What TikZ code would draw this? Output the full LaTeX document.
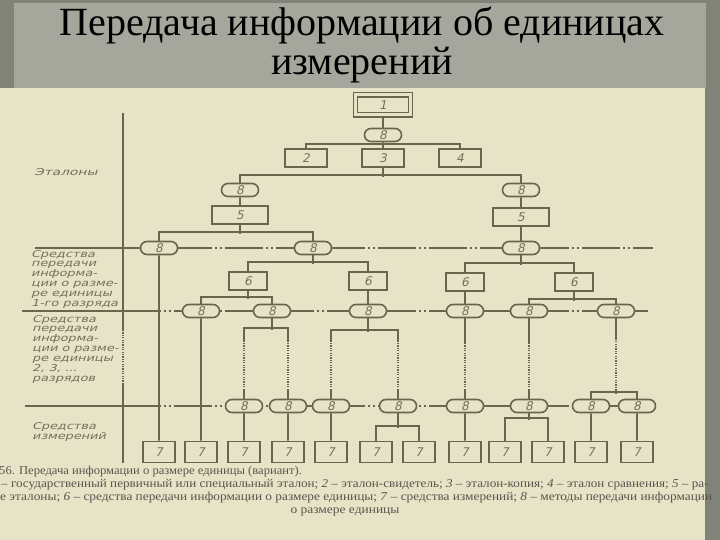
\documentclass[tikz,border=0pt]{standalone}
\usepackage{fontspec}
\setmainfont{Liberation Serif}
\newfontfamily\drw[FakeSlant=0.22]{DejaVu Sans}
\usetikzlibrary{shapes.misc}
\definecolor{frame}{HTML}{808378}
\definecolor{panel}{HTML}{A5A79C}
\definecolor{paper}{HTML}{E7E3C6}
\definecolor{ink}{HTML}{6A664E}
\definecolor{inktext}{HTML}{75705A}
\definecolor{captext}{HTML}{57564D}
\newcommand\lbl[2][1.35]{\scalebox{#1}[1]{\begin{tabular}[t]{@{}l@{}}#2\end{tabular}}}
\newcommand\wide[2][1.12]{\scalebox{#1}[1]{#2}}
\begin{document}
\begin{tikzpicture}[x=1pt,y=-1pt,
 ln/.style={draw=ink,line width=1.6pt},
 lvl/.style={draw=ink,line width=1.3pt},
 lvldash/.style={draw=ink,line width=1.3pt,dash pattern=on 38pt off 3pt on 2pt off 3pt on 2pt off 3pt},
 dots/.style={draw=ink,line width=2pt,dash pattern=on 1.2pt off 1.2pt},
 bx/.style={rectangle,draw=ink,line width=1.6pt,fill=paper,minimum height=18pt,inner sep=0pt,text=inktext,font=\drw\fontsize{12}{12}\selectfont},
 bA/.style={bx,minimum width=42pt},
 bB/.style={bx,minimum width=56pt},
 bC/.style={bx,minimum width=38pt},
 bD/.style={bx,minimum width=32pt,minimum height=21pt},
 ov/.style={rounded rectangle,draw=ink,line width=1.6pt,fill=paper,minimum width=37pt,minimum height=13pt,inner sep=0pt,text=inktext,font=\drw\fontsize{12}{12}\selectfont},
 side/.style={anchor=base west,inner sep=0pt,text=inktext,font=\drw\fontsize{9.5}{9.8}\selectfont},
 captxt/.style={anchor=base west,inner sep=0pt,text=captext,font=\fontsize{12}{12}\selectfont},
 ttl/.style={anchor=base,inner sep=0pt,text=black,font=\fontsize{40}{40}\selectfont}
]
\useasboundingbox (0,0) rectangle (720,540);
\clip (0,0) rectangle (720,540);
% background
\fill[frame] (0,0) rectangle (720,540);
\fill[panel] (14,3) rectangle (706,88);
\fill[paper] (0,88) rectangle (705,540);
% title
\node[ttl] (t1) at (362,36) {Передача информации об единицах};
\node[ttl] (t2) at (362,75) {измерений};
% side labels
\node[side] (s1) at (34,176) {\lbl[1.45]{Эталоны}};
\node[side] (s2) at (31,257) {\lbl{Средства\\передачи\\информа-\\ции о разме-\\ре единицы\\1-го разряда}};
\node[side] (s3) at (32,322) {\lbl{Средства\\передачи\\информа-\\ции о разме-\\ре единицы\\2, 3, ...\\разрядов}};
\node[side] (s4) at (32,429) {\lbl{Средства\\измерений}};
% separator lines
\draw[ln] (123,113) -- (123,330);
\draw[dots] (123,330) -- (123,383);
\draw[ln] (123,383) -- (123,463);
\draw[lvl] (35,248) -- (123,248);
\draw[lvldash] (123,248) -- (653,248);
\draw[lvl] (22,311) -- (123,311);
\draw[lvldash] (123,311) -- (648,311);
\draw[lvl] (25,406) -- (123,406);
\draw[lvldash] (123,406) -- (618,406);
% nodes
\node[bx,minimum width=55pt,minimum height=20pt,double=paper,double distance=3pt,line width=1.3pt] (n1) at (383,105) {1};
\node[ov] (e0) at (383,135) {8};
\node[bA] (n2) at (306,158) {2};
\node[bA] (n3) at (383,158) {3};
\node[bA] (n4) at (460,158) {4};
\node[ov] (e1) at (240,190) {8};
\node[ov] (e2) at (521,190) {8};
\node[bB] (n5a) at (240,215) {5};
\node[bB] (n5b) at (521,217) {5};
\node[ov] (e3) at (159,248) {8};
\node[ov] (e4) at (313,248) {8};
\node[ov] (e5) at (521,248) {8};
\node[bC] (n6a) at (248,281) {6};
\node[bC] (n6b) at (368,281) {6};
\node[bC] (n6c) at (465,282) {6};
\node[bC] (n6d) at (574,282) {6};
\node[ov] (e6) at (201,311) {8};
\node[ov] (e7) at (272,311) {8};
\node[ov] (e8) at (368,311) {8};
\node[ov] (e9) at (465,311) {8};
\node[ov] (e10) at (529,311) {8};
\node[ov] (e11) at (616,311) {8};
\node[ov] (f1) at (244,406) {8};
\node[ov] (f2) at (288,406) {8};
\node[ov] (f3) at (331,406) {8};
\node[ov] (f4) at (398,406) {8};
\node[ov] (f5) at (465,406) {8};
\node[ov] (f6) at (529,406) {8};
\node[ov] (f7) at (591,406) {8};
\node[ov] (f8) at (637,406) {8};
\foreach \i/\x in {1/159,2/201,3/244,4/288,5/331,6/376,7/419,8/465,9/505,10/548,11/591,12/637}
  \node[bD] (g\i) at (\x,452) {7};
% connectors: top
\draw[ln] (n1) -- (e0);
\draw[ln] (e0) -- (n3);
\draw[ln] (n2.north) -- ++(0,-4) -| (n4.north);
\draw[ln] (n3.south) -- ++(0,9);
\draw[ln] (e1.north) -- ++(0,-7.5) -| (e2.north);
\draw[ln] (e1) -- (n5a);
\draw[ln] (e2) -- (n5b);
\draw[ln] (n5b) -- (e5);
\draw[ln] (n5a.south) -- ++(0,9);
\draw[ln] (e3.north) -- ++(0,-8.5) -| (e4.north);
\draw[ln] (e4.south) -- ++(0,8.5);
\draw[ln] (n6a.north) -- ++(0,-9) -| (n6b.north);
\draw[ln] (e5.south) -- ++(0,9.5);
\draw[ln] (n6c.north) -- ++(0,-9) -| (n6d.north);
\draw[ln] (n6a.south) -- ++(0,8);
\draw[ln] (e6.north) -- ++(0,-6.5) -| (e7.north);
\draw[ln] (n6b) -- (e8);
\draw[ln] (n6c) -- (e9);
\draw[ln] (n6d.south) -- ++(0,9);
\draw[ln] (e10.north) -- ++(0,-4.5) -| (e11.north);
% connectors: middle (dotted)
\draw[ln] (e7.south) -- ++(0,11.5);
\draw[ln] ([yshift=56.5pt]f1.north) -- ++(0,-14) -| ([yshift=56.5pt]f2.north);
\draw[ln] (e8.south) -- ++(0,13.5);
\draw[ln] ([yshift=56.5pt]f3.north) -- ++(0,-12) -| ([yshift=56.5pt]f4.north);
\draw[ln] (e9.south) -- ++(0,25.5);
\draw[ln] (e10.south) -- ++(0,25.5);
\foreach \n in {f1,f2,f3,f4,f5,f6}{
  \draw[ln] (\n.north) -- ++(0,-9);
  \draw[dots] ([yshift=9pt]\n.north) -- ([yshift=56.5pt]\n.north);
}
\draw[ln] (e11.south) -- ++(0,20.5);
\draw[dots] ([yshift=-20.5pt]e11.south) -- ([yshift=-70.5pt]e11.south);
\draw[ln] ([yshift=-70.5pt]e11.south) -- ++(0,5);
\draw[ln] (f7.north) -- ++(0,-6.5) -| (f8.north);
% connectors: bottom
\draw[ln] (e3) -- (g1);
\draw[ln] (e6) -- (g2);
\draw[ln] (f1) -- (g3);
\draw[ln] (f2) -- (g4);
\draw[ln] (f3) -- (g5);
\draw[ln] (f4.south) -- ++(0,14.5);
\draw[ln] (g6.north) -- ++(0,-14.5) -| (g7.north);
\draw[ln] (f5) -- (g8);
\draw[ln] (f6.south) -- ++(0,6.5);
\draw[ln] (g9.north) -- ++(0,-22.5) -| (g10.north);
\draw[ln] (f7) -- (g11);
\draw[ln] (f8) -- (g12);
% caption
\node[captxt] (c1) at (-1,474) {\wide[1.05]{56. Передача информации о размере единицы (вариант).}};
\node[captxt] (c2) at (1,487) {\wide[1.095]{– государственный первичный или специальный эталон; \textit{2} – эталон-свидетель; \textit{3} – эталон-копия; \textit{4} – эталон сравнения; \textit{5} – ра-}};
\node[captxt] (c3) at (0,500) {\wide[1.11]{е эталоны; \textit{6} – средства передачи информации о размере единицы; \textit{7} – средства измерений; \textit{8} – методы передачи информации}};
\node[captxt,anchor=base] (c4) at (345,513) {\wide{о размере единицы}};
\end{tikzpicture}
\end{document}
